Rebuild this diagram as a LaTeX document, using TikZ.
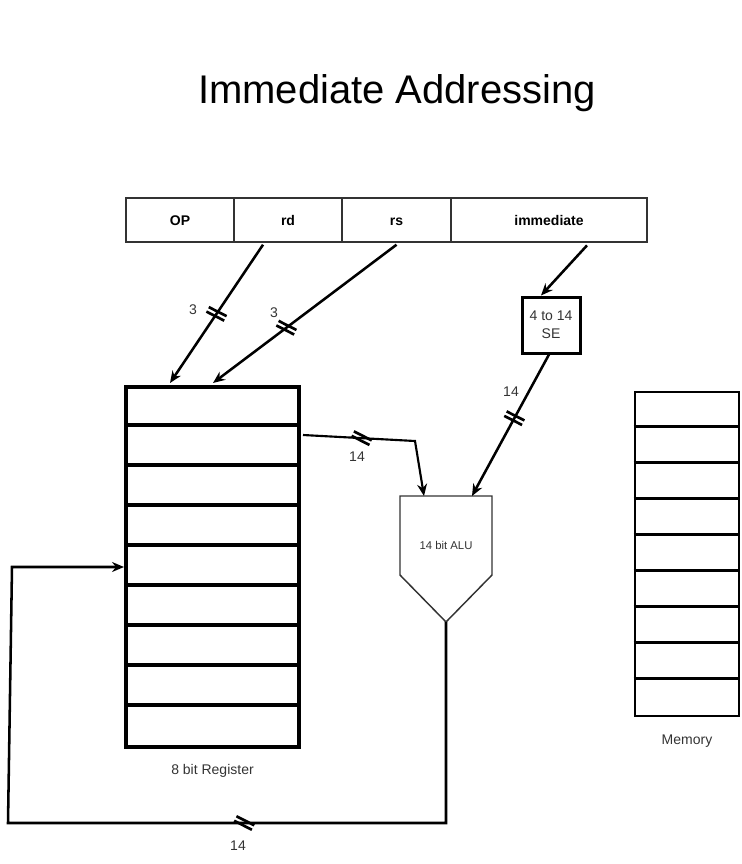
\documentclass[tikz,border=0pt]{standalone}
\usepackage{fontspec}
\setmainfont{Liberation Sans}
\usetikzlibrary{arrows.meta,decorations.markings}
\definecolor{txtgray}{HTML}{333333}
\tikzset{
  field/.style={draw=black!80,line width=1.1pt,minimum height=33pt,inner sep=0pt,text height=7.6pt,text depth=0pt,font=\fontsize{10.5}{12}\selectfont\bfseries},
  wire/.style={line width=1.9pt,-{Stealth[length=9pt,width=7.5pt,inset=3pt]}},
  lbl/.style={text=txtgray,font=\fontsize{10.5}{13.5}\selectfont,inner sep=0pt},
  bus/.style={postaction={decorate,decoration={markings,mark=at position #1 with {\pgftransformresetnontranslations
    \draw[line width=2pt,rotate=-27,-] (-7.5pt,1.9pt)--(7.5pt,1.9pt) (-7.5pt,-1.9pt)--(7.5pt,-1.9pt);}}}},
}
\begin{document}
\begin{tikzpicture}[x=0.75pt,y=-0.75pt]
    \useasboundingbox (0,0) rectangle (742,864);
    \node[font=\fontsize{30}{36}\selectfont] (title) at (397,93) {Immediate Addressing};
    \node[field,minimum width=81pt] (op) at (180,220) {OP};
    \node[field,minimum width=81pt] (rd) at (288,220) {rd};
    \node[field,minimum width=81.75pt] (rs) at (396.5,220) {rs};
    \node[field,minimum width=147pt] (imm) at (549,220) {immediate};
    \node[draw,line width=2.25pt,minimum width=43.5pt,minimum height=42pt,align=center,lbl] (se) at (551,325) {4 to 14\\SE};
    \node[draw,line width=3pt,minimum width=129.75pt,minimum height=270pt,inner sep=0pt] (reg) at (212.5,567) {};
    \foreach \i in {1,...,8}
    \draw[line width=3pt] ([yshift=-30pt*\i]reg.north west) -- ([yshift=-30pt*\i]reg.north east);
    \node[lbl,below=11pt] (regname) at (reg.south) {8 bit Register};
    \node[draw,line width=2.2pt,minimum width=78pt,minimum height=243pt,inner sep=0pt] (mem) at (687,554) {};
    \foreach \i in {1,...,8}
    \draw[line width=2.2pt] ([yshift=-27pt*\i]mem.north west) -- ([yshift=-27pt*\i]mem.north east);
    \node[lbl,below=12.5pt] (memname) at (mem.south) {Memory};
    \draw[draw=black!80,line width=1.1pt] (400,496) -- (492,496) -- (492,575) -- (446,622) -- (400,575) -- cycle;
    \node[text=txtgray,font=\fontsize{8.5}{10}\selectfont] (alu) at (446,545) {14 bit ALU};
    \coordinate (aluA) at (424,496);
    \coordinate (aluB) at (472,496);
    \coordinate (aluOut) at (446,622);
    \coordinate (bend) at (415,441);
    \coordinate (loopR) at (446,823);
    \coordinate (loopL) at (8,823);
    \coordinate (loopT) at (12,567);
    \draw[wire,bus=.5] ([xshift=-18.75pt,yshift=-1.5pt]rd.south) -- ([xshift=34.5pt,yshift=1.5pt]reg.north west);
    \draw[wire,bus=.6] ([yshift=-1.5pt]rs.south) -- ([xshift=66.75pt,yshift=1.5pt]reg.north west);
    \draw[wire] ([xshift=28.5pt,yshift=-2pt]imm.south) -- ([xshift=-7.5pt]se.north);
    \draw[wire,bus=.45] ([xshift=-1.5pt]se.south) -- (aluB);
    \draw[wire,line width=1.6pt,bus=.35] ([xshift=1.5pt,yshift=-37.5pt]reg.north east) -- (bend) -- (aluA);
    \draw[wire,bus=.4] (aluOut) -- (loopR) -- (loopL) -- (loopT) -- (reg.west);
    \node[lbl] (nrd) at (193,310) {3};
    \node[lbl] (nrs) at (274,313) {3};
    \node[lbl] (nse) at (511,392) {14};
    \node[lbl] (nreg) at (357,457) {14};
    \node[lbl] (nloop) at (238,846) {14};
  \end{tikzpicture}
\end{document}
